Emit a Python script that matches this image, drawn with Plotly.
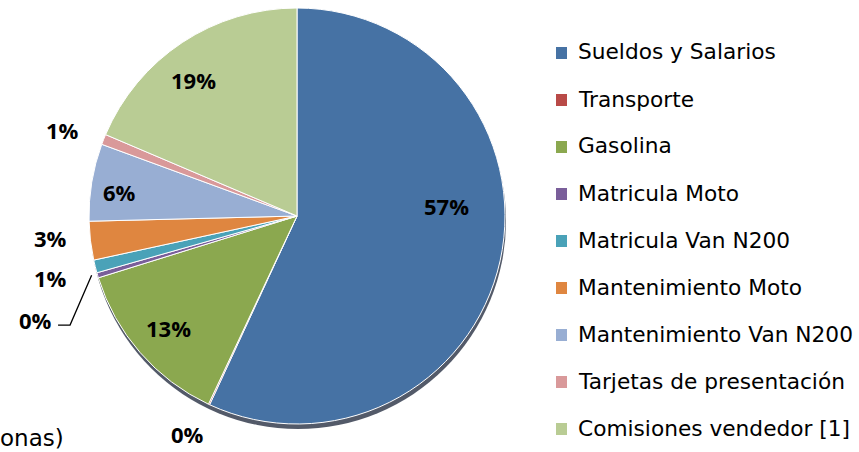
import math
import plotly.graph_objects as go

# Expense breakdown (share of total, %)
labels = [
    "Sueldos y Salarios",
    "Transporte",
    "Gasolina",
    "Matricula Moto",
    "Matricula Van N200",
    "Mantenimiento Moto",
    "Mantenimiento Van N200",
    "Tarjetas de presentación",
    "Comisiones vendedor [1]",
]
values = [56.9, 0.1, 13.2, 0.4, 1.0, 3.0, 6.0, 0.8, 18.6]
colors = [
    "#4672A4", "#B94A47", "#8BA84F", "#7A5E9A", "#4AA2B8",
    "#DF8640", "#98AED3", "#D9999A", "#B9CC94",
]

# Label placement per slice: radius factor and angular nudge (degrees)
label_rf = [0.72, 1.17, 0.82, 1.355, 1.22, 1.19, 0.86, 1.20, 0.82]
label_da = [-16.4, 1.6, 0.0, -5.1, 0.0, 1.7, -1.7, -1.4, -3.9]

W, H = 859, 452
cx, cy, r = 297, 216, 208


def px(x):
    return x / W


def py(y):
    return 1 - y / H


fig = go.Figure()

# soft drop shadow under the pie
fig.add_shape(type="circle", xref="paper", yref="paper", layer="below",
              x0=px(cx - r + 1), x1=px(cx + r + 1),
              y0=py(cy + r + 5), y1=py(cy - r + 5),
              fillcolor="rgba(25,35,55,0.75)", line=dict(width=0))

fig.add_trace(go.Pie(
    labels=labels,
    values=values,
    sort=False,
    direction="clockwise",
    rotation=0,
    marker=dict(colors=colors, line=dict(color="white", width=1)),
    textinfo="none",
    showlegend=False,
    domain=dict(x=[px(cx - r), px(cx + r)], y=[py(cy + r), py(cy - r)]),
    hoverinfo="label+percent",
))

# Percentage labels, placed from each slice's mid angle
total = sum(values)
cum = 0.0
for i, v in enumerate(values):
    mid = (cum + v / 2) / total * 360.0
    cum += v
    th = math.radians(mid + label_da[i])
    rr = r * label_rf[i]
    lx = cx + rr * math.sin(th)
    ly = cy - rr * math.cos(th)
    fig.add_annotation(x=px(lx), y=py(ly), xref="paper", yref="paper",
                       text=f"<b>{round(v / total * 100):.0f}%</b>", showarrow=False,
                       xanchor="center", yanchor="middle",
                       font=dict(family="Open Sans", size=22, color="black"))
    if i == 3:
        # leader line from the label to the slice edge
        th0 = math.radians(mid)
        ex = cx + r * math.sin(th0)
        ey = cy - r * math.cos(th0)
        x1, y1 = lx + 23, ly + 5
        x2, y2 = lx + 35, ly + 5
        fig.add_shape(type="path", xref="paper", yref="paper",
                      path=f"M {px(x1)} {py(y1)} L {px(x2)} {py(y2)} L {px(ex - 6)} {py(ey)}",
                      line=dict(color="black", width=1.3))

# Legend drawn as colour squares with labels
leg_x0, leg_y0, leg_dy = 556, 53, 47
for i, (lab, col) in enumerate(zip(labels, colors)):
    yc = leg_y0 + i * leg_dy
    fig.add_shape(type="rect", xref="paper", yref="paper",
                  x0=px(leg_x0), x1=px(leg_x0 + 11),
                  y0=py(yc + 6), y1=py(yc - 6),
                  fillcolor=col, line=dict(width=0))
    fig.add_annotation(x=px(leg_x0 + 20), y=py(yc - 1), xref="paper", yref="paper",
                       text=lab, showarrow=False, xanchor="left", yanchor="middle",
                       font=dict(family="DejaVu Sans", size=21.7, color="black"))

fig.add_annotation(x=px(66), y=py(438), xref="paper", yref="paper",
                   text="onas)", showarrow=False, xanchor="right", yanchor="middle",
                   font=dict(family="DejaVu Sans", size=23, color="black"))

fig.update_layout(
    width=W, height=H,
    margin=dict(l=0, r=0, t=0, b=0),
    paper_bgcolor="white",
    plot_bgcolor="white",
)
fig.write_html("out.html")
